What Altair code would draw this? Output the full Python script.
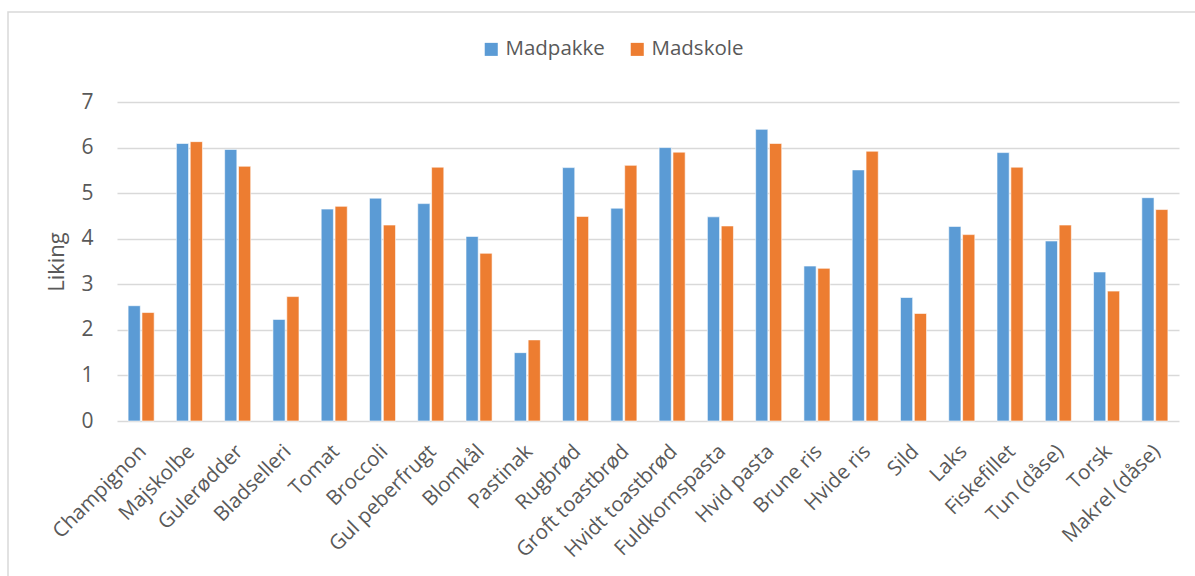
import altair as alt
import pandas as pd

# Food items and mean liking scores per group
foods = [
    "Champignon", "Majskolbe", "Gulerødder", "Bladselleri", "Tomat", "Broccoli",
    "Gul peberfrugt", "Blomkål", "Pastinak", "Rugbrød", "Groft toastbrød",
    "Hvidt toastbrød", "Fuldkornspasta", "Hvid pasta", "Brune ris", "Hvide ris",
    "Sild", "Laks", "Fiskefillet", "Tun (dåse)", "Torsk", "Makrel (dåse)",
]
madpakke = [2.53, 6.09, 5.96, 2.23, 4.65, 4.89, 4.77, 4.05, 1.50, 5.56, 4.67,
            6.00, 4.48, 6.40, 3.40, 5.51, 2.71, 4.27, 5.89, 3.95, 3.27, 4.90]
madskole = [2.38, 6.13, 5.59, 2.73, 4.71, 4.30, 5.57, 3.68, 1.78, 4.49, 5.61,
            5.90, 4.28, 6.09, 3.35, 5.92, 2.36, 4.09, 5.57, 4.30, 2.85, 4.64]
groups = ["Madpakke", "Madskole"]
colors = ["#5b9bd5", "#ed7d31"]

rows = []
for i, f in enumerate(foods):
    rows.append({"food": f, "group": groups[0], "liking": madpakke[i]})
    rows.append({"food": f, "group": groups[1], "liking": madskole[i]})
df = pd.DataFrame(rows)

FONT = "Open Sans"
TXT = "#595959"
W, H = 1062, 319

bars = alt.Chart(df).mark_bar(stroke="white", strokeWidth=0.6).encode(
    x=alt.X("food:N", sort=foods,
            scale=alt.Scale(paddingInner=0.46, paddingOuter=0.23),
            axis=alt.Axis(title=None, labelAngle=-45, labelAlign="right",
                          labelBaseline="top", labelPadding=20, labelOffset=-5,
                          ticks=False, domain=False, labelFontSize=20.5,
                          labelColor=TXT, labelFont=FONT, labelOverlap=False)),
    xOffset=alt.XOffset("group:N", sort=groups,
                        scale=alt.Scale(paddingInner=0.12)),
    y=alt.Y("liking:Q", scale=alt.Scale(domain=[0, 7]),
            axis=alt.Axis(title="Liking", values=list(range(8)), ticks=False,
                          domain=False, labelFontSize=21, labelColor=TXT,
                          labelFont=FONT, labelPadding=24, gridColor="#d9d9d9",
                          gridWidth=1.3, titleFontSize=22, titleColor=TXT,
                          titleFont=FONT, titleFontWeight="normal",
                          titlePadding=12)),
    color=alt.Color("group:N", sort=groups,
                    scale=alt.Scale(domain=groups, range=colors),
                    legend=alt.Legend(title=None, orient="none", direction="horizontal",
                                      legendX=364, legendY=-63, symbolType="square",
                                      symbolSize=170, symbolStrokeWidth=0,
                                      labelFontSize=20.5, labelColor=TXT,
                                      labelFont=FONT, columnPadding=22,
                                      symbolOpacity=1)),
)

# Outer frame of the chart area
frame = alt.Chart(pd.DataFrame({"a": [0]})).mark_rect(
    fill=None, stroke="#d9d9d9", strokeWidth=1.5, clip=False
).encode(x=alt.value(-109), x2=alt.value(W + 40), y=alt.value(-90), y2=alt.value(H + 200))

chart = alt.layer(frame, bars).properties(
    width=W, height=H,
    autosize=alt.AutoSizeParams(type="none"),
    padding={"left": 117, "top": 102, "right": 16, "bottom": 155},
    background="white",
).configure_view(stroke=None)

chart.save("out.html", embed_options={"renderer": "svg", "actions": False})
